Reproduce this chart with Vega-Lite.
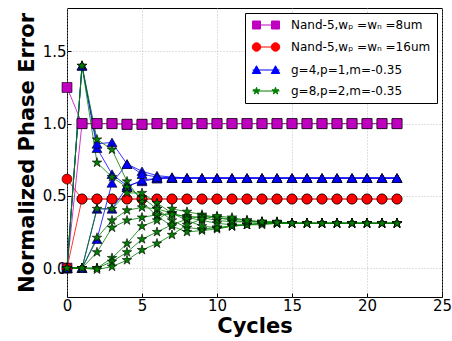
{
"$schema": "https://vega.github.io/schema/vega-lite/v6.json",
"width": 375,
"height": 289,
"autosize": {"type": "none"},
"padding": {"left": 67, "top": 8, "right": 10, "bottom": 44},
"background": "white",
"config": {
  "font": "DejaVu Sans",
  "view": {"stroke": "black", "strokeWidth": 1},
  "axis": {"domain": false, "ticks": true, "tickSize": -4, "tickColor": "black", "tickWidth": 1, "grid": true, "gridColor": "#b0b0b0", "gridDash": [1, 2], "gridWidth": 0.8,
    "labelFont": "DejaVu Sans", "labelFontSize": 15, "labelColor": "black", "labelPadding": 5, "labelFlush": false,
    "titleFont": "DejaVu Sans", "titleFontSize": 21, "titleFontWeight": "bold", "titleColor": "black"},
  "axisX": {"titlePadding": 2},
  "axisY": {"titlePadding": 5}
},
"data": {"values": [
{"s":"a","r":"a1","x":0,"y":1.25},{"s":"a","r":"a1","x":1,"y":1.0},{"s":"a","r":"a1","x":2,"y":1.0},{"s":"a","r":"a1","x":3,"y":1.0},{"s":"a","r":"a1","x":4,"y":0.995},{"s":"a","r":"a1","x":5,"y":0.995},{"s":"a","r":"a1","x":6,"y":1.0},{"s":"a","r":"a1","x":7,"y":1.0},{"s":"a","r":"a1","x":8,"y":1.0},{"s":"a","r":"a1","x":9,"y":1.0},{"s":"a","r":"a1","x":10,"y":1.0},{"s":"a","r":"a1","x":11,"y":1.0},{"s":"a","r":"a1","x":12,"y":1.0},{"s":"a","r":"a1","x":13,"y":1.0},{"s":"a","r":"a1","x":14,"y":1.0},{"s":"a","r":"a1","x":15,"y":1.0},{"s":"a","r":"a1","x":16,"y":1.0},{"s":"a","r":"a1","x":17,"y":1.0},{"s":"a","r":"a1","x":18,"y":1.0},{"s":"a","r":"a1","x":19,"y":1.0},{"s":"a","r":"a1","x":20,"y":1.0},{"s":"a","r":"a1","x":21,"y":1.0},{"s":"a","r":"a1","x":22,"y":1.0},
{"s":"a","r":"a2","x":0,"y":0},{"s":"a","r":"a2","x":1,"y":1.0},{"s":"a","r":"a2","x":2,"y":1.0},{"s":"a","r":"a2","x":3,"y":1.0},{"s":"a","r":"a2","x":4,"y":0.995},{"s":"a","r":"a2","x":5,"y":0.995},{"s":"a","r":"a2","x":6,"y":1.0},{"s":"a","r":"a2","x":7,"y":1.0},{"s":"a","r":"a2","x":8,"y":1.0},{"s":"a","r":"a2","x":9,"y":1.0},{"s":"a","r":"a2","x":10,"y":1.0},{"s":"a","r":"a2","x":11,"y":1.0},{"s":"a","r":"a2","x":12,"y":1.0},{"s":"a","r":"a2","x":13,"y":1.0},{"s":"a","r":"a2","x":14,"y":1.0},{"s":"a","r":"a2","x":15,"y":1.0},{"s":"a","r":"a2","x":16,"y":1.0},{"s":"a","r":"a2","x":17,"y":1.0},{"s":"a","r":"a2","x":18,"y":1.0},{"s":"a","r":"a2","x":19,"y":1.0},{"s":"a","r":"a2","x":20,"y":1.0},{"s":"a","r":"a2","x":21,"y":1.0},{"s":"a","r":"a2","x":22,"y":1.0},
{"s":"b","r":"b1","x":0,"y":0.616},{"s":"b","r":"b1","x":1,"y":0.478},{"s":"b","r":"b1","x":2,"y":0.478},{"s":"b","r":"b1","x":3,"y":0.478},{"s":"b","r":"b1","x":4,"y":0.478},{"s":"b","r":"b1","x":5,"y":0.478},{"s":"b","r":"b1","x":6,"y":0.478},{"s":"b","r":"b1","x":7,"y":0.478},{"s":"b","r":"b1","x":8,"y":0.478},{"s":"b","r":"b1","x":9,"y":0.478},{"s":"b","r":"b1","x":10,"y":0.478},{"s":"b","r":"b1","x":11,"y":0.478},{"s":"b","r":"b1","x":12,"y":0.478},{"s":"b","r":"b1","x":13,"y":0.478},{"s":"b","r":"b1","x":14,"y":0.478},{"s":"b","r":"b1","x":15,"y":0.478},{"s":"b","r":"b1","x":16,"y":0.478},{"s":"b","r":"b1","x":17,"y":0.478},{"s":"b","r":"b1","x":18,"y":0.478},{"s":"b","r":"b1","x":19,"y":0.478},{"s":"b","r":"b1","x":20,"y":0.478},{"s":"b","r":"b1","x":21,"y":0.478},{"s":"b","r":"b1","x":22,"y":0.478},
{"s":"b","r":"b2","x":0,"y":0},{"s":"b","r":"b2","x":1,"y":0.478},{"s":"b","r":"b2","x":2,"y":0.478},{"s":"b","r":"b2","x":3,"y":0.478},{"s":"b","r":"b2","x":4,"y":0.478},{"s":"b","r":"b2","x":5,"y":0.478},{"s":"b","r":"b2","x":6,"y":0.478},{"s":"b","r":"b2","x":7,"y":0.478},{"s":"b","r":"b2","x":8,"y":0.478},{"s":"b","r":"b2","x":9,"y":0.478},{"s":"b","r":"b2","x":10,"y":0.478},{"s":"b","r":"b2","x":11,"y":0.478},{"s":"b","r":"b2","x":12,"y":0.478},{"s":"b","r":"b2","x":13,"y":0.478},{"s":"b","r":"b2","x":14,"y":0.478},{"s":"b","r":"b2","x":15,"y":0.478},{"s":"b","r":"b2","x":16,"y":0.478},{"s":"b","r":"b2","x":17,"y":0.478},{"s":"b","r":"b2","x":18,"y":0.478},{"s":"b","r":"b2","x":19,"y":0.478},{"s":"b","r":"b2","x":20,"y":0.478},{"s":"b","r":"b2","x":21,"y":0.478},{"s":"b","r":"b2","x":22,"y":0.478},
{"s":"c","r":"c1","x":0,"y":0},{"s":"c","r":"c1","x":1,"y":1.40},{"s":"c","r":"c1","x":2,"y":0.83},{"s":"c","r":"c1","x":3,"y":0.65},{"s":"c","r":"c1","x":4,"y":0.57},{"s":"c","r":"c1","x":5,"y":0.60},{"s":"c","r":"c1","x":6,"y":0.62},{"s":"c","r":"c1","x":7,"y":0.623},{"s":"c","r":"c1","x":8,"y":0.623},{"s":"c","r":"c1","x":9,"y":0.623},{"s":"c","r":"c1","x":10,"y":0.623},{"s":"c","r":"c1","x":11,"y":0.623},{"s":"c","r":"c1","x":12,"y":0.623},{"s":"c","r":"c1","x":13,"y":0.623},{"s":"c","r":"c1","x":14,"y":0.623},{"s":"c","r":"c1","x":15,"y":0.623},{"s":"c","r":"c1","x":16,"y":0.623},{"s":"c","r":"c1","x":17,"y":0.623},{"s":"c","r":"c1","x":18,"y":0.623},{"s":"c","r":"c1","x":19,"y":0.623},{"s":"c","r":"c1","x":20,"y":0.623},{"s":"c","r":"c1","x":21,"y":0.623},{"s":"c","r":"c1","x":22,"y":0.623},
{"s":"c","r":"c2","x":0,"y":0},{"s":"c","r":"c2","x":1,"y":1.40},{"s":"c","r":"c2","x":2,"y":0.86},{"s":"c","r":"c2","x":3,"y":0.87},{"s":"c","r":"c2","x":4,"y":0.72},{"s":"c","r":"c2","x":5,"y":0.67},{"s":"c","r":"c2","x":6,"y":0.64},{"s":"c","r":"c2","x":7,"y":0.63},{"s":"c","r":"c2","x":8,"y":0.625},{"s":"c","r":"c2","x":9,"y":0.623},{"s":"c","r":"c2","x":10,"y":0.623},{"s":"c","r":"c2","x":11,"y":0.623},{"s":"c","r":"c2","x":12,"y":0.623},{"s":"c","r":"c2","x":13,"y":0.623},{"s":"c","r":"c2","x":14,"y":0.623},{"s":"c","r":"c2","x":15,"y":0.623},{"s":"c","r":"c2","x":16,"y":0.623},{"s":"c","r":"c2","x":17,"y":0.623},{"s":"c","r":"c2","x":18,"y":0.623},{"s":"c","r":"c2","x":19,"y":0.623},{"s":"c","r":"c2","x":20,"y":0.623},{"s":"c","r":"c2","x":21,"y":0.623},{"s":"c","r":"c2","x":22,"y":0.623},
{"s":"c","r":"c3","x":0,"y":0},{"s":"c","r":"c3","x":1,"y":0},{"s":"c","r":"c3","x":2,"y":0.41},{"s":"c","r":"c3","x":3,"y":0.41},{"s":"c","r":"c3","x":4,"y":0.56},{"s":"c","r":"c3","x":5,"y":0.61},{"s":"c","r":"c3","x":6,"y":0.62},{"s":"c","r":"c3","x":7,"y":0.623},{"s":"c","r":"c3","x":8,"y":0.623},{"s":"c","r":"c3","x":9,"y":0.623},{"s":"c","r":"c3","x":10,"y":0.623},{"s":"c","r":"c3","x":11,"y":0.623},{"s":"c","r":"c3","x":12,"y":0.623},{"s":"c","r":"c3","x":13,"y":0.623},{"s":"c","r":"c3","x":14,"y":0.623},{"s":"c","r":"c3","x":15,"y":0.623},{"s":"c","r":"c3","x":16,"y":0.623},{"s":"c","r":"c3","x":17,"y":0.623},{"s":"c","r":"c3","x":18,"y":0.623},{"s":"c","r":"c3","x":19,"y":0.623},{"s":"c","r":"c3","x":20,"y":0.623},{"s":"c","r":"c3","x":21,"y":0.623},{"s":"c","r":"c3","x":22,"y":0.623},
{"s":"c","r":"c4","x":0,"y":0},{"s":"c","r":"c4","x":1,"y":0},{"s":"c","r":"c4","x":2,"y":0.20},{"s":"c","r":"c4","x":3,"y":0.59},{"s":"c","r":"c4","x":4,"y":0.72},{"s":"c","r":"c4","x":5,"y":0.65},{"s":"c","r":"c4","x":6,"y":0.63},{"s":"c","r":"c4","x":7,"y":0.625},{"s":"c","r":"c4","x":8,"y":0.623},{"s":"c","r":"c4","x":9,"y":0.623},{"s":"c","r":"c4","x":10,"y":0.623},{"s":"c","r":"c4","x":11,"y":0.623},{"s":"c","r":"c4","x":12,"y":0.623},{"s":"c","r":"c4","x":13,"y":0.623},{"s":"c","r":"c4","x":14,"y":0.623},{"s":"c","r":"c4","x":15,"y":0.623},{"s":"c","r":"c4","x":16,"y":0.623},{"s":"c","r":"c4","x":17,"y":0.623},{"s":"c","r":"c4","x":18,"y":0.623},{"s":"c","r":"c4","x":19,"y":0.623},{"s":"c","r":"c4","x":20,"y":0.623},{"s":"c","r":"c4","x":21,"y":0.623},{"s":"c","r":"c4","x":22,"y":0.623},
{"s":"d","r":"g1","x":0,"y":0},{"s":"d","r":"g1","x":1,"y":1.40},{"s":"d","r":"g1","x":2,"y":0.89},{"s":"d","r":"g1","x":3,"y":0.82},{"s":"d","r":"g1","x":4,"y":0.60},{"s":"d","r":"g1","x":5,"y":0.46},{"s":"d","r":"g1","x":6,"y":0.36},{"s":"d","r":"g1","x":7,"y":0.29},{"s":"d","r":"g1","x":8,"y":0.25},{"s":"d","r":"g1","x":9,"y":0.26},{"s":"d","r":"g1","x":10,"y":0.27},{"s":"d","r":"g1","x":11,"y":0.29},{"s":"d","r":"g1","x":12,"y":0.30},{"s":"d","r":"g1","x":13,"y":0.31},{"s":"d","r":"g1","x":14,"y":0.31},{"s":"d","r":"g1","x":15,"y":0.31},{"s":"d","r":"g1","x":16,"y":0.31},{"s":"d","r":"g1","x":17,"y":0.31},{"s":"d","r":"g1","x":18,"y":0.31},{"s":"d","r":"g1","x":19,"y":0.31},{"s":"d","r":"g1","x":20,"y":0.31},{"s":"d","r":"g1","x":21,"y":0.31},{"s":"d","r":"g1","x":22,"y":0.31},
{"s":"d","r":"g2","x":0,"y":0},{"s":"d","r":"g2","x":1,"y":1.40},{"s":"d","r":"g2","x":2,"y":0.73},{"s":"d","r":"g2","x":3,"y":0.63},{"s":"d","r":"g2","x":4,"y":0.56},{"s":"d","r":"g2","x":5,"y":0.49},{"s":"d","r":"g2","x":6,"y":0.41},{"s":"d","r":"g2","x":7,"y":0.33},{"s":"d","r":"g2","x":8,"y":0.28},{"s":"d","r":"g2","x":9,"y":0.27},{"s":"d","r":"g2","x":10,"y":0.28},{"s":"d","r":"g2","x":11,"y":0.29},{"s":"d","r":"g2","x":12,"y":0.30},{"s":"d","r":"g2","x":13,"y":0.30},{"s":"d","r":"g2","x":14,"y":0.31},{"s":"d","r":"g2","x":15,"y":0.31},{"s":"d","r":"g2","x":16,"y":0.31},{"s":"d","r":"g2","x":17,"y":0.31},{"s":"d","r":"g2","x":18,"y":0.31},{"s":"d","r":"g2","x":19,"y":0.31},{"s":"d","r":"g2","x":20,"y":0.31},{"s":"d","r":"g2","x":21,"y":0.31},{"s":"d","r":"g2","x":22,"y":0.31},
{"s":"d","r":"g3","x":0,"y":0},{"s":"d","r":"g3","x":1,"y":0},{"s":"d","r":"g3","x":2,"y":0.41},{"s":"d","r":"g3","x":3,"y":0.41},{"s":"d","r":"g3","x":4,"y":0.52},{"s":"d","r":"g3","x":5,"y":0.52},{"s":"d","r":"g3","x":6,"y":0.45},{"s":"d","r":"g3","x":7,"y":0.38},{"s":"d","r":"g3","x":8,"y":0.33},{"s":"d","r":"g3","x":9,"y":0.29},{"s":"d","r":"g3","x":10,"y":0.28},{"s":"d","r":"g3","x":11,"y":0.29},{"s":"d","r":"g3","x":12,"y":0.30},{"s":"d","r":"g3","x":13,"y":0.31},{"s":"d","r":"g3","x":14,"y":0.31},{"s":"d","r":"g3","x":15,"y":0.31},{"s":"d","r":"g3","x":16,"y":0.31},{"s":"d","r":"g3","x":17,"y":0.31},{"s":"d","r":"g3","x":18,"y":0.31},{"s":"d","r":"g3","x":19,"y":0.31},{"s":"d","r":"g3","x":20,"y":0.31},{"s":"d","r":"g3","x":21,"y":0.31},{"s":"d","r":"g3","x":22,"y":0.31},
{"s":"d","r":"g4","x":0,"y":0},{"s":"d","r":"g4","x":1,"y":0},{"s":"d","r":"g4","x":2,"y":0.21},{"s":"d","r":"g4","x":3,"y":0.33},{"s":"d","r":"g4","x":4,"y":0.40},{"s":"d","r":"g4","x":5,"y":0.42},{"s":"d","r":"g4","x":6,"y":0.41},{"s":"d","r":"g4","x":7,"y":0.38},{"s":"d","r":"g4","x":8,"y":0.35},{"s":"d","r":"g4","x":9,"y":0.33},{"s":"d","r":"g4","x":10,"y":0.31},{"s":"d","r":"g4","x":11,"y":0.30},{"s":"d","r":"g4","x":12,"y":0.30},{"s":"d","r":"g4","x":13,"y":0.31},{"s":"d","r":"g4","x":14,"y":0.31},{"s":"d","r":"g4","x":15,"y":0.31},{"s":"d","r":"g4","x":16,"y":0.31},{"s":"d","r":"g4","x":17,"y":0.31},{"s":"d","r":"g4","x":18,"y":0.31},{"s":"d","r":"g4","x":19,"y":0.31},{"s":"d","r":"g4","x":20,"y":0.31},{"s":"d","r":"g4","x":21,"y":0.31},{"s":"d","r":"g4","x":22,"y":0.31},
{"s":"d","r":"g5","x":0,"y":0},{"s":"d","r":"g5","x":1,"y":0},{"s":"d","r":"g5","x":2,"y":0.11},{"s":"d","r":"g5","x":3,"y":0.28},{"s":"d","r":"g5","x":4,"y":0.33},{"s":"d","r":"g5","x":5,"y":0.35},{"s":"d","r":"g5","x":6,"y":0.37},{"s":"d","r":"g5","x":7,"y":0.37},{"s":"d","r":"g5","x":8,"y":0.36},{"s":"d","r":"g5","x":9,"y":0.35},{"s":"d","r":"g5","x":10,"y":0.33},{"s":"d","r":"g5","x":11,"y":0.32},{"s":"d","r":"g5","x":12,"y":0.32},{"s":"d","r":"g5","x":13,"y":0.32},{"s":"d","r":"g5","x":14,"y":0.32},{"s":"d","r":"g5","x":15,"y":0.31},{"s":"d","r":"g5","x":16,"y":0.31},{"s":"d","r":"g5","x":17,"y":0.31},{"s":"d","r":"g5","x":18,"y":0.31},{"s":"d","r":"g5","x":19,"y":0.31},{"s":"d","r":"g5","x":20,"y":0.31},{"s":"d","r":"g5","x":21,"y":0.31},{"s":"d","r":"g5","x":22,"y":0.31},
{"s":"d","r":"g6","x":0,"y":0},{"s":"d","r":"g6","x":1,"y":0},{"s":"d","r":"g6","x":2,"y":0},{"s":"d","r":"g6","x":3,"y":0.07},{"s":"d","r":"g6","x":4,"y":0.17},{"s":"d","r":"g6","x":5,"y":0.29},{"s":"d","r":"g6","x":6,"y":0.33},{"s":"d","r":"g6","x":7,"y":0.41},{"s":"d","r":"g6","x":8,"y":0.39},{"s":"d","r":"g6","x":9,"y":0.37},{"s":"d","r":"g6","x":10,"y":0.35},{"s":"d","r":"g6","x":11,"y":0.34},{"s":"d","r":"g6","x":12,"y":0.33},{"s":"d","r":"g6","x":13,"y":0.32},{"s":"d","r":"g6","x":14,"y":0.32},{"s":"d","r":"g6","x":15,"y":0.31},{"s":"d","r":"g6","x":16,"y":0.31},{"s":"d","r":"g6","x":17,"y":0.31},{"s":"d","r":"g6","x":18,"y":0.31},{"s":"d","r":"g6","x":19,"y":0.31},{"s":"d","r":"g6","x":20,"y":0.31},{"s":"d","r":"g6","x":21,"y":0.31},{"s":"d","r":"g6","x":22,"y":0.31},
{"s":"d","r":"g7","x":0,"y":0},{"s":"d","r":"g7","x":1,"y":0},{"s":"d","r":"g7","x":2,"y":0},{"s":"d","r":"g7","x":3,"y":0.045},{"s":"d","r":"g7","x":4,"y":0.11},{"s":"d","r":"g7","x":5,"y":0.20},{"s":"d","r":"g7","x":6,"y":0.25},{"s":"d","r":"g7","x":7,"y":0.30},{"s":"d","r":"g7","x":8,"y":0.34},{"s":"d","r":"g7","x":9,"y":0.36},{"s":"d","r":"g7","x":10,"y":0.35},{"s":"d","r":"g7","x":11,"y":0.33},{"s":"d","r":"g7","x":12,"y":0.32},{"s":"d","r":"g7","x":13,"y":0.32},{"s":"d","r":"g7","x":14,"y":0.315},{"s":"d","r":"g7","x":15,"y":0.31},{"s":"d","r":"g7","x":16,"y":0.31},{"s":"d","r":"g7","x":17,"y":0.31},{"s":"d","r":"g7","x":18,"y":0.31},{"s":"d","r":"g7","x":19,"y":0.31},{"s":"d","r":"g7","x":20,"y":0.31},{"s":"d","r":"g7","x":21,"y":0.31},{"s":"d","r":"g7","x":22,"y":0.31},
{"s":"d","r":"g8","x":0,"y":0},{"s":"d","r":"g8","x":1,"y":0},{"s":"d","r":"g8","x":2,"y":-0.01},{"s":"d","r":"g8","x":3,"y":0.01},{"s":"d","r":"g8","x":4,"y":0.055},{"s":"d","r":"g8","x":5,"y":0.125},{"s":"d","r":"g8","x":6,"y":0.17},{"s":"d","r":"g8","x":7,"y":0.23},{"s":"d","r":"g8","x":8,"y":0.30},{"s":"d","r":"g8","x":9,"y":0.34},{"s":"d","r":"g8","x":10,"y":0.36},{"s":"d","r":"g8","x":11,"y":0.35},{"s":"d","r":"g8","x":12,"y":0.33},{"s":"d","r":"g8","x":13,"y":0.32},{"s":"d","r":"g8","x":14,"y":0.315},{"s":"d","r":"g8","x":15,"y":0.31},{"s":"d","r":"g8","x":16,"y":0.31},{"s":"d","r":"g8","x":17,"y":0.31},{"s":"d","r":"g8","x":18,"y":0.31},{"s":"d","r":"g8","x":19,"y":0.31},{"s":"d","r":"g8","x":20,"y":0.31},{"s":"d","r":"g8","x":21,"y":0.31},{"s":"d","r":"g8","x":22,"y":0.31}
]},
"encoding": {
  "x": {"field": "x", "type": "quantitative", "scale": {"domain": [0, 25], "nice": false}, "axis": {"values": [0, 5, 10, 15, 20, 25], "title": "Cycles"}},
  "y": {"field": "y", "type": "quantitative", "scale": {"domain": [-0.2, 1.8], "nice": false, "zero": false}, "axis": {"values": [0, 0.5, 1, 1.5], "format": ".1f", "title": "Normalized Phase Error"}},
  "color": {"field": "s", "type": "nominal",
    "scale": {"domain": ["a", "b", "c", "d"], "range": ["#bf00bf", "#ff0000", "#0000ff", "#007f00"]},
    "legend": {"orient": "top-right", "offset": 5, "title": null, "padding": 6, "strokeColor": "black", "fillColor": "white",
      "labelFont": "DejaVu Sans", "labelFontSize": 12, "labelColor": "black", "labelLimit": 300, "labelOffset": 19, "rowPadding": 9,
      "symbolSize": 100, "symbolOffset": 9, "symbolOpacity": 1,
      "labelExpr": "datum.value=='a' ? 'Nand-5,w\u209a =w\u2099 =8um' : datum.value=='b' ? 'Nand-5,w\u209a =w\u2099 =16um' : datum.value=='c' ? 'g=4,p=1,m=-0.35' : 'g=8,p=2,m=-0.35'",
      "encode": {"symbols": {"update": {
        "shape": {"signal": "datum.value=='a' ? 'M-2.7,0H2.7M-2.7,-0.8H-1.1V0.8H-2.7ZM1.1,-0.8H2.7V0.8H1.1Z' : datum.value=='b' ? 'M-2.7,0H2.7M-2.75,0A0.85,0.85,0,1,1,-1.05,0A0.85,0.85,0,1,1,-2.75,0ZM1.05,0A0.85,0.85,0,1,1,2.75,0A0.85,0.85,0,1,1,1.05,0Z' : datum.value=='c' ? 'M-2.7,0H2.7M-1.9,-0.85L-2.75,0.7L-1.05,0.7ZM1.9,-0.85L1.05,0.7L2.75,0.7Z' : 'M-2.7,0H2.7M-1.9,-0.75l0.166,0.52l0.547,-0.003l-0.442,0.321l0.171,0.52l-0.442,-0.324l-0.442,0.324l0.171,-0.52l-0.442,-0.321l0.547,0.003zM1.9,-0.75l0.166,0.52l0.547,-0.003l-0.442,0.321l0.171,0.52l-0.442,-0.324l-0.442,0.324l0.171,-0.52l-0.442,-0.321l0.547,0.003z'"},
        "fill": {"signal": "datum.value=='a' ? '#bf00bf' : datum.value=='b' ? '#ff0000' : datum.value=='c' ? '#0000ff' : '#007f00'"},
        "stroke": {"signal": "datum.value=='a' ? '#bf00bf' : datum.value=='b' ? '#ff0000' : datum.value=='c' ? '#0000ff' : '#007f00'"},
        "strokeWidth": {"value": 1},
        "opacity": {"value": 1},
        "fillOpacity": {"value": 1},
        "strokeOpacity": {"value": 1}
      }}}
    }
  }
},
"layer": [
  {"mark": {"type": "line", "strokeWidth": 1, "opacity": 0.8}, "encoding": {"detail": {"field": "r"}}},
  {"transform": [{"filter": "datum.s == 'a'"}], "mark": {"type": "point", "shape": "square", "filled": true, "size": 100, "stroke": "black", "strokeWidth": 0.6, "opacity": 1}},
  {"transform": [{"filter": "datum.s == 'b'"}], "mark": {"type": "point", "shape": "circle", "filled": true, "size": 100, "stroke": "black", "strokeWidth": 0.6, "opacity": 1}},
  {"transform": [{"filter": "datum.s == 'c'"}], "mark": {"type": "point", "shape": "triangle-up", "filled": true, "size": 100, "stroke": "black", "strokeWidth": 0.6, "opacity": 1}},
  {"transform": [{"filter": "datum.s == 'd'"}], "mark": {"type": "point", "shape": "M0,-1L0.223,-0.307L0.951,-0.309L0.361,0.117L0.588,0.809L0,0.38L-0.588,0.809L-0.361,0.117L-0.951,-0.309L-0.223,-0.307Z", "filled": true, "size": 100, "stroke": "black", "strokeWidth": 0.6, "opacity": 1}}
]
}
